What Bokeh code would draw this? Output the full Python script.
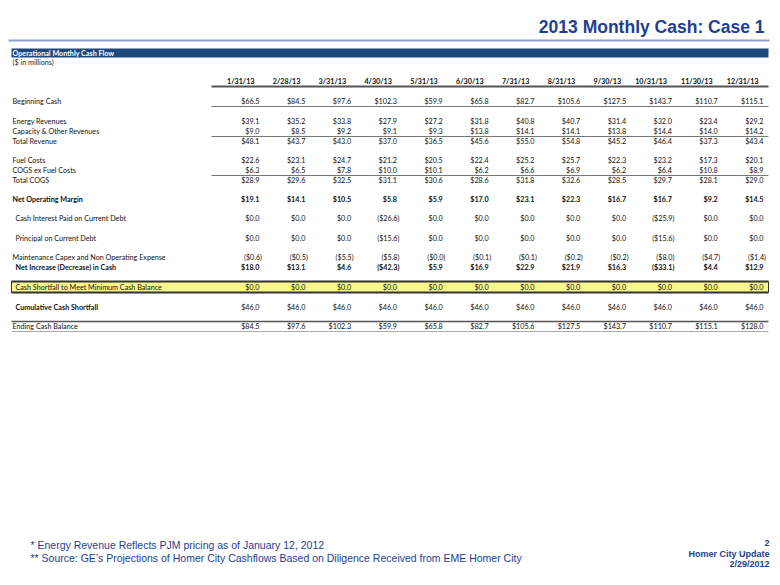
import math
from bokeh.plotting import figure
from bokeh.models import Range1d, ColumnDataSource
from bokeh.core.properties import value
from bokeh.embed import file_html
from bokeh.resources import INLINE

# ---------------- data ----------------
dates = ["1/31/13", "2/28/13", "3/31/13", "4/30/13", "5/31/13", "6/30/13",
         "7/31/13", "8/31/13", "9/30/13", "10/31/13", "11/30/13", "12/31/13"]
beginning_cash = [66.5, 84.5, 97.6, 102.3, 59.9, 65.8, 82.7, 105.6, 127.5, 143.7, 110.7, 115.1]
energy_revenues = [39.1, 35.2, 33.8, 27.9, 27.2, 31.8, 40.8, 40.7, 31.4, 32.0, 23.4, 29.2]
capacity_revenues = [9.0, 8.5, 9.2, 9.1, 9.3, 13.8, 14.1, 14.1, 13.8, 14.4, 14.0, 14.2]
total_revenue = [48.1, 43.7, 43.0, 37.0, 36.5, 45.6, 55.0, 54.8, 45.2, 46.4, 37.3, 43.4]
fuel_costs = [22.6, 23.1, 24.7, 21.2, 20.5, 22.4, 25.2, 25.7, 22.3, 23.2, 17.3, 20.1]
cogs_ex_fuel = [6.3, 6.5, 7.8, 10.0, 10.1, 6.2, 6.6, 6.9, 6.2, 6.4, 10.8, 8.9]
total_cogs = [28.9, 29.6, 32.5, 31.1, 30.6, 28.6, 31.8, 32.6, 28.5, 29.7, 28.1, 29.0]
net_operating_margin = [19.1, 14.1, 10.5, 5.8, 5.9, 17.0, 23.1, 22.3, 16.7, 16.7, 9.2, 14.5]
cash_interest = [0.0, 0.0, 0.0, -26.6, 0.0, 0.0, 0.0, 0.0, 0.0, -25.9, 0.0, 0.0]
principal = [0.0, 0.0, 0.0, -15.6, 0.0, 0.0, 0.0, 0.0, 0.0, -15.6, 0.0, 0.0]
maintenance_capex = [-0.6, -0.5, -5.5, -5.8, -0.0, -0.1, -0.1, -0.2, -0.2, -8.0, -4.7, -1.4]
net_increase = [18.0, 13.1, 4.6, -42.3, 5.9, 16.9, 22.9, 21.9, 16.3, -33.1, 4.4, 12.9]
cash_shortfall = [0.0] * 12
cumulative_shortfall = [46.0] * 12
ending_cash = [84.5, 97.6, 102.3, 59.9, 65.8, 82.7, 105.6, 127.5, 143.7, 110.7, 115.1, 128.0]

row_labels = ["Beginning Cash", "Energy Revenues", "Capacity & Other Revenues", "Total Revenue",
              "Fuel Costs", "COGS ex Fuel Costs", "Total COGS", "Net Operating Margin",
              "Cash Interest Paid on Current Debt", "Principal on Current Debt",
              "Maintenance Capex and Non Operating Expense", "Net Increase (Decrease) in Cash",
              "Cash Shortfall to Meet Minimum Cash Balance", "Cumulative Cash Shortfall",
              "Ending Cash Balance"]
row_values = [beginning_cash, energy_revenues, capacity_revenues, total_revenue,
              fuel_costs, cogs_ex_fuel, total_cogs, net_operating_margin,
              cash_interest, principal, maintenance_capex, net_increase,
              cash_shortfall, cumulative_shortfall, ending_cash]

# ---------------- layout (positions / styles) ----------------
row_y = [101, 121, 131, 141, 160, 170, 180, 199, 218, 238, 257, 267, 287, 307, 326]
row_bold = [False, False, False, False, False, False, False, True,
            False, False, False, True, False, True, False]
row_indent = [12, 12, 12, 12, 12, 12, 12, 12, 15, 15, 12, 15, 15, 15, 12]
values_bold = [False, False, False, False, False, False, False, True,
               False, False, False, True, False, False, False]

BLUE = "#1F3E93"
TFONT = value("Lato")
FS = "7.2px"
RIGHT = 768

W, H = 772, 569
p = figure(width=W, height=H, output_backend="svg", toolbar_location=None,
           x_range=Range1d(0, W), y_range=Range1d(H, 0),
           min_border=0, outline_line_color=None, background_fill_color="white",
           border_fill_color="white")
p.xaxis.visible = False
p.yaxis.visible = False
p.grid.visible = False


def fmt(v):
    neg = v < 0 or (v == 0 and math.copysign(1.0, v) < 0)
    s = "$%.1f" % abs(v)
    return "(" + s + ")" if neg else s


col_right = [259 + 45.82 * i for i in range(len(dates))]

# title and rule
p.text(x=[764], y=[26], text=["2013 Monthly Cash: Case 1"], text_font=value("Liberation Sans"),
       text_font_style="bold", text_font_size="17.5px", text_color=BLUE,
       text_align="right", text_baseline="middle")
p.segment(x0=[8], y0=[40], x1=[769], y1=[40], line_color="#8EA0CB", line_width=2)

# header bar
p.quad(left=[11], right=[RIGHT], top=[48], bottom=[57], fill_color="#1F497D", line_color=None)
p.text(x=[12], y=[52.5], text=["Operational Monthly Cash Flow"], text_font=TFONT,
       text_font_style="bold", text_font_size=FS, text_color="white",
       text_align="left", text_baseline="middle")
p.text(x=[12], y=[62], text=["($ in millions)"], text_font=TFONT,
       text_font_size=FS, text_color="#222222", text_align="left", text_baseline="middle")

# column headers
p.text(x=[r - 5 for r in col_right], y=[81] * len(dates), text=dates, text_font=TFONT,
       text_font_style="bold", text_font_size=FS, text_color="#111111",
       text_align="right", text_baseline="middle")
p.segment(x0=[211], y0=[86], x1=[RIGHT], y1=[86], line_color="#555555", line_width=2)

# horizontal rules
p.segment(x0=[211] * 3, y0=[106, 136, 175], x1=[RIGHT] * 3, y1=[106, 136, 175],
          line_color="#777777", line_width=1.2)

# highlighted shortfall row
ys = row_y[12]
p.quad(left=[11], right=[RIGHT], top=[ys - 6], bottom=[ys + 5], fill_color="#F7F78C",
       line_color="#333333", line_width=1)
p.segment(x0=[11, 11], y0=[ys - 6, ys + 5], x1=[RIGHT, RIGHT], y1=[ys - 6, ys + 5],
          line_color="#333333", line_width=2)

# rule above / below ending cash
ye = row_y[14]
p.segment(x0=[11], y0=[ye - 5], x1=[RIGHT], y1=[ye - 5], line_color="#555555", line_width=1.5)
p.segment(x0=[11], y0=[ye + 5], x1=[RIGHT], y1=[ye + 5], line_color="#AAAAAA", line_width=1)

# row labels
for bold in (False, True):
    idx = [i for i in range(len(row_labels)) if row_bold[i] == bold]
    p.text(x=[row_indent[i] for i in idx], y=[row_y[i] for i in idx],
           text=[row_labels[i] for i in idx], text_font=TFONT,
           text_font_style="bold" if bold else "normal", text_font_size=FS,
           text_color="#111111", text_align="left", text_baseline="middle")

# values
for bold in (False, True):
    xs, yv, ts = [], [], []
    for i, vals in enumerate(row_values):
        if values_bold[i] != bold:
            continue
        for j, v in enumerate(vals):
            t = fmt(v)
            xs.append(col_right[j] + (2.5 if t.startswith("(") else 0))
            yv.append(row_y[i])
            ts.append(t)
    src = ColumnDataSource(dict(x=xs, y=yv, t=ts))
    p.text(x="x", y="y", text="t", source=src, text_font=TFONT,
           text_font_style="bold" if bold else "normal", text_font_size=FS,
           text_color="#111111", text_align="right", text_baseline="middle")

# footnotes
FN = value("Liberation Sans")
p.text(x=[30, 30], y=[544, 557],
       text=["* Energy Revenue Reflects PJM pricing as of January 12, 2012",
             "** Source: GE\u2019s Projections of Homer City Cashflows Based on Diligence Received from EME Homer City"],
       text_font=FN, text_font_size="10.5px", text_color=BLUE,
       text_align="left", text_baseline="middle")
p.text(x=[769, 769, 769], y=[542, 553, 563], text=["2", "Homer City Update", "2/29/2012"],
       text_font=FN, text_font_style="bold", text_font_size="9px", text_color=BLUE,
       text_align="right", text_baseline="middle")

open("out.html", "w").write(file_html(p, INLINE))
